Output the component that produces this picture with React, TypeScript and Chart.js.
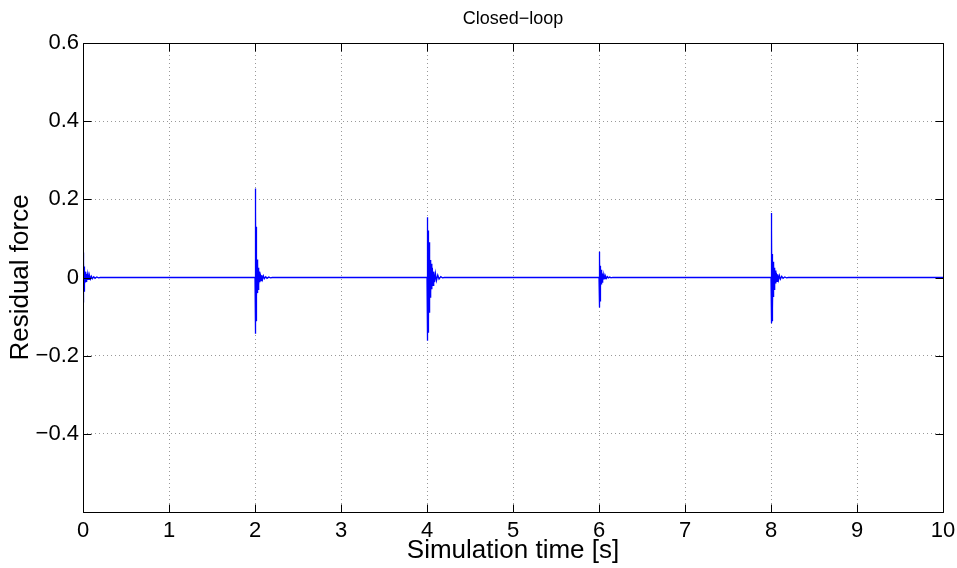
import { useEffect, useRef } from 'react';
import { Chart, registerables } from 'chart.js';

Chart.register(...registerables);

// Time axis and residual axis ranges
const xTicks = [0, 1, 2, 3, 4, 5, 6, 7, 8, 9, 10];
const yTicks = [-0.6, -0.4, -0.2, 0, 0.2, 0.4, 0.6];

// Instants where a disturbance hits the loop [s]
const spikeTimes = [0, 2, 4, 6, 8];

// Sample offsets after each disturbance [s]
const sampleOffsets = [
  0, 0.002, 0.004, 0.006, 0.008, 0.01, 0.012, 0.014, 0.016, 0.018, 0.02, 0.024, 0.028, 0.032,
  0.036, 0.04, 0.045, 0.05, 0.056, 0.062, 0.07, 0.078, 0.088, 0.098, 0.11, 0.125, 0.14, 0.16,
  0.18, 0.2,
];

// Residual force samples following each disturbance
const residualAt0 = [
  0, 0.064, -0.064, 0.055, -0.05, 0.04, -0.035, 0.028, -0.025, 0.02, -0.018, 0.015, -0.013,
  0.011, -0.01, 0.009, -0.008, 0.007, -0.006, 0.005, -0.005, 0.004, -0.004, 0.003, -0.003,
  0.002, -0.002, 0.0015, -0.001, 0,
];
const residualAt2 = [
  0, 0.228, -0.144, 0.2, -0.13, 0.17, -0.11, 0.13, -0.09, 0.05, -0.05, 0.046, -0.04, 0.035,
  -0.03, 0.025, -0.02, 0.015, -0.012, 0.01, -0.008, 0.006, -0.005, 0.004, -0.003, 0.002,
  -0.002, 0.001, -0.001, 0,
];
const residualAt4 = [
  0, 0.154, -0.162, 0.15, -0.15, 0.13, -0.14, 0.12, -0.12, 0.11, -0.11, 0.09, -0.09, 0.05,
  -0.05, 0.045, -0.04, 0.035, -0.03, 0.025, -0.02, 0.015, -0.012, 0.01, -0.008, 0.006, -0.004,
  0.002, -0.001, 0,
];
const residualAt6 = [
  0, 0.066, -0.077, 0.06, -0.07, 0.05, -0.06, 0.03, -0.03, 0.028, -0.025, 0.02, -0.018, 0.015,
  -0.012, 0.01, -0.008, 0.006, -0.005, 0.004, -0.003, 0.003, -0.002, 0.002, -0.001, 0.001,
  -0.001, 0.0005, 0, 0,
];
const residualAt8 = [
  0, 0.165, -0.117, 0.15, -0.11, 0.12, -0.11, 0.06, -0.1, 0.045, -0.08, 0.04, -0.05, 0.035,
  -0.03, 0.025, -0.02, 0.018, -0.015, 0.012, -0.01, 0.008, -0.006, 0.005, -0.004, 0.003,
  -0.002, 0.0015, -0.001, 0,
];
const residualSeries = [residualAt0, residualAt2, residualAt4, residualAt6, residualAt8];

const FONT = '"Liberation Sans", Arial, Helvetica, sans-serif';

function buildPoints() {
  const pts: { x: number; y: number }[] = [];
  spikeTimes.forEach((t0, i) => {
    const vals = residualSeries[i];
    sampleOffsets.forEach((dt, k) => {
      pts.push({ x: t0 + dt, y: vals[k] });
    });
  });
  pts.push({ x: xTicks[xTicks.length - 1], y: 0 });
  return pts;
}

function fmt(v: number) {
  if (Math.abs(v) < 1e-9) return '0';
  if (v < -0.59) return '';
  return v.toFixed(1).replace('-', '\u2212');
}

// Box, inward tick marks and the text around the axes
const framePlugin = {
  id: 'frame',
  afterDraw(chart: any) {
    const { ctx, chartArea: a, scales } = chart;
    const xs = scales.x;
    const ys = scales.y;
    ctx.save();
    ctx.strokeStyle = '#000';
    ctx.lineWidth = 1;
    const L = Math.round(a.left) + 0.5;
    const R = Math.round(a.right) + 0.5;
    const T = Math.round(a.top) + 0.5;
    const B = Math.round(a.bottom) + 0.5;
    ctx.beginPath();
    ctx.rect(L, T, R - L, B - T);
    const len = 8;
    xTicks.forEach((v) => {
      const px = Math.round(xs.getPixelForValue(v)) + 0.5;
      ctx.moveTo(px, B);
      ctx.lineTo(px, B - len);
      ctx.moveTo(px, T);
      ctx.lineTo(px, T + len);
    });
    yTicks.forEach((v) => {
      const py = Math.round(ys.getPixelForValue(v)) + 0.5;
      ctx.moveTo(L, py);
      ctx.lineTo(L + len, py);
      ctx.moveTo(R, py);
      ctx.lineTo(R - len, py);
    });
    ctx.stroke();

    ctx.fillStyle = '#000';
    ctx.textAlign = 'center';
    ctx.textBaseline = 'alphabetic';
    ctx.font = `18px ${FONT}`;
    ctx.fillText('Closed\u2212loop', (a.left + a.right) / 2, 24);

    ctx.font = `26px ${FONT}`;
    ctx.fillText('Simulation time [s]', (a.left + a.right) / 2, 558);

    ctx.translate(28, (a.top + a.bottom) / 2);
    ctx.rotate(-Math.PI / 2);
    ctx.fillText('Residual force', 0, 0);
    ctx.restore();
  },
};

export default function App() {
  const ref = useRef<HTMLCanvasElement | null>(null);

  useEffect(() => {
    if (!ref.current) return;
    const chart = new Chart(ref.current, {
      type: 'line',
      data: {
        datasets: [
          {
            data: buildPoints(),
            borderColor: '#0000ff',
            borderWidth: 1.3,
            pointRadius: 0,
            tension: 0,
            fill: false,
          },
        ],
      },
      options: {
        animation: false,
        responsive: false,
        maintainAspectRatio: false,
        parsing: false,
        normalized: true,
        layout: { padding: { top: 43, right: 14, left: 0, bottom: 0 } },
        plugins: {
          legend: { display: false },
          title: { display: false },
          tooltip: { enabled: false },
        },
        scales: {
          x: {
            type: 'linear',
            min: xTicks[0],
            max: xTicks[xTicks.length - 1],
            afterBuildTicks: (s: any) => {
              s.ticks = xTicks.map((v) => ({ value: v }));
            },
            afterFit: (s: any) => {
              s.height = 56;
              s.paddingLeft = 0;
              s.paddingRight = 0;
            },
            ticks: {
              color: '#000',
              font: { family: FONT, size: 22 },
              padding: 6,
              maxRotation: 0,
              autoSkip: false,
              callback: (v: any) => String(v),
            },
            grid: {
              color: '#999',
              lineWidth: 1,
              drawTicks: false,
            },
            border: { display: false, dash: [1, 3] },
          },
          y: {
            type: 'linear',
            min: yTicks[0],
            max: yTicks[yTicks.length - 1],
            afterBuildTicks: (s: any) => {
              s.ticks = yTicks.map((v) => ({ value: v }));
            },
            afterFit: (s: any) => {
              s.width = 83;
              s.paddingTop = 0;
              s.paddingBottom = 0;
            },
            ticks: {
              color: '#000',
              font: { family: FONT, size: 22 },
              padding: 4,
              autoSkip: false,
              callback: (v: any) => fmt(Number(v)),
            },
            grid: {
              color: '#999',
              lineWidth: 1,
              drawTicks: false,
            },
            border: { display: false, dash: [1, 3] },
          },
        },
      },
      plugins: [framePlugin],
    } as any);
    return () => chart.destroy();
  }, []);

  return (
    <div style={{ position: 'fixed', left: 0, top: 0, width: 957, height: 568, background: '#fff' }}>
      <canvas ref={ref} width={957} height={568} style={{ width: 957, height: 568 }} />
    </div>
  );
}
